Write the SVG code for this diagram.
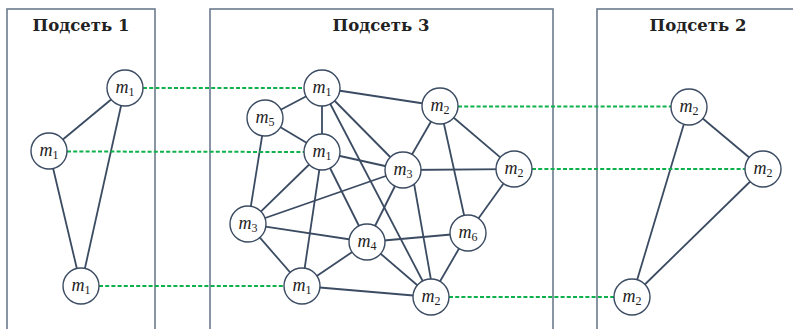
<svg xmlns="http://www.w3.org/2000/svg" width="793" height="329" viewBox="0 0 793 329">
  <style>
    .box { fill: none; stroke: #6c7b8d; stroke-width: 1.6; }
    .title { font-family: "DejaVu Serif", "Liberation Serif", serif; font-weight: bold; font-size: 16.5px; fill: #222; text-anchor: middle; }
    .edge { stroke: #3b4b62; stroke-width: 1.8; fill: none; }
    .link { stroke: #0db14b; stroke-width: 2; stroke-dasharray: 4 2.2; fill: none; }
    .node circle { fill: #fff; stroke: #3b4b62; stroke-width: 1.4; }
    .node text { font-family: "Liberation Serif", "DejaVu Serif", serif; font-size: 18px; fill: #222; text-anchor: middle; }
    .node .v { font-style: italic; }
    .node .s { font-size: 12px; }
  </style>

  <!-- subnet frames -->
  <g id="subnet1">
    <rect class="box" x="7" y="9" width="148" height="330"/>
    <text class="title" x="81" y="31">Подсеть 1</text>
  </g>
  <g id="subnet3">
    <rect class="box" x="210" y="9" width="343" height="330"/>
    <text class="title" x="381" y="31">Подсеть 3</text>
  </g>
  <g id="subnet2">
    <rect class="box" x="597" y="9" width="210" height="330"/>
    <text class="title" x="698" y="31">Подсеть 2</text>
  </g>

  <!-- connectors -->
  <g id="connectors">
    <!-- subnet 1 -->
    <line class="edge" x1="125" y1="88" x2="49" y2="151"/>
    <line class="edge" x1="125" y1="88" x2="81" y2="286"/>
    <line class="edge" x1="49" y1="151" x2="81" y2="286"/>
    <!-- subnet 2 -->
    <line class="edge" x1="689" y1="107" x2="632" y2="297"/>
    <line class="edge" x1="689" y1="107" x2="763" y2="169"/>
    <line class="edge" x1="763" y1="169" x2="632" y2="297"/>
    <!-- subnet 3 -->
    <line class="edge" x1="322" y1="88" x2="265" y2="118"/>
    <line class="edge" x1="322" y1="88" x2="322" y2="152"/>
    <line class="edge" x1="322" y1="88" x2="440" y2="106"/>
    <line class="edge" x1="322" y1="88" x2="403" y2="170"/>
    <line class="edge" x1="322" y1="88" x2="431" y2="297"/>
    <line class="edge" x1="265" y1="118" x2="322" y2="152"/>
    <line class="edge" x1="265" y1="118" x2="248" y2="224"/>
    <line class="edge" x1="322" y1="152" x2="403" y2="170"/>
    <line class="edge" x1="322" y1="152" x2="248" y2="224"/>
    <line class="edge" x1="322" y1="152" x2="302" y2="286"/>
    <line class="edge" x1="322" y1="152" x2="367" y2="242"/>
    <line class="edge" x1="440" y1="106" x2="403" y2="170"/>
    <line class="edge" x1="440" y1="106" x2="468" y2="233"/>
    <line class="edge" x1="440" y1="106" x2="514" y2="169"/>
    <line class="edge" x1="403" y1="170" x2="514" y2="169"/>
    <line class="edge" x1="403" y1="170" x2="248" y2="224"/>
    <line class="edge" x1="403" y1="170" x2="367" y2="242"/>
    <line class="edge" x1="412" y1="172" x2="434" y2="297"/>
    <line class="edge" x1="248" y1="224" x2="367" y2="242"/>
    <line class="edge" x1="248" y1="224" x2="302" y2="286"/>
    <line class="edge" x1="367" y1="242" x2="302" y2="286"/>
    <line class="edge" x1="367" y1="242" x2="468" y2="233"/>
    <line class="edge" x1="367" y1="242" x2="431" y2="297"/>
    <line class="edge" x1="468" y1="233" x2="514" y2="169"/>
    <line class="edge" x1="468" y1="233" x2="431" y2="297"/>
    <line class="edge" x1="302" y1="286" x2="431" y2="297"/>
    <!-- links between subnets -->
    <line class="link" x1="143" y1="88" x2="304" y2="88"/>
    <line class="link" x1="67" y1="151.5" x2="304" y2="152"/>
    <line class="link" x1="99" y1="286" x2="284" y2="286"/>
    <line class="link" x1="458" y1="106.5" x2="671" y2="106.5"/>
    <line class="link" x1="532" y1="169" x2="745" y2="169"/>
    <line class="link" x1="449" y1="297" x2="614" y2="297"/>
  </g>

  <!-- subnet 1 nodes -->
  <g id="s1-a" class="node"><circle cx="125" cy="88" r="18"/><text x="125" y="93"><tspan class="v">m</tspan><tspan class="s" dy="3">1</tspan></text></g>
  <g id="s1-b" class="node"><circle cx="49" cy="151" r="18"/><text x="49" y="156"><tspan class="v">m</tspan><tspan class="s" dy="3">1</tspan></text></g>
  <g id="s1-c" class="node"><circle cx="81" cy="286" r="18"/><text x="81" y="291"><tspan class="v">m</tspan><tspan class="s" dy="3">1</tspan></text></g>

  <!-- subnet 3 nodes -->
  <g id="s3-m1-top" class="node"><circle cx="322" cy="88" r="18"/><text x="322" y="93"><tspan class="v">m</tspan><tspan class="s" dy="3">1</tspan></text></g>
  <g id="s3-m5" class="node"><circle cx="265" cy="118" r="18"/><text x="265" y="123"><tspan class="v">m</tspan><tspan class="s" dy="3">5</tspan></text></g>
  <g id="s3-m1-mid" class="node"><circle cx="322" cy="152" r="18"/><text x="322" y="157"><tspan class="v">m</tspan><tspan class="s" dy="3">1</tspan></text></g>
  <g id="s3-m3-right" class="node"><circle cx="403" cy="170" r="18"/><text x="403" y="175"><tspan class="v">m</tspan><tspan class="s" dy="3">3</tspan></text></g>
  <g id="s3-m2-top" class="node"><circle cx="440" cy="106" r="18"/><text x="440" y="111"><tspan class="v">m</tspan><tspan class="s" dy="3">2</tspan></text></g>
  <g id="s3-m2-right" class="node"><circle cx="514" cy="169" r="18"/><text x="514" y="174"><tspan class="v">m</tspan><tspan class="s" dy="3">2</tspan></text></g>
  <g id="s3-m3-left" class="node"><circle cx="248" cy="224" r="18"/><text x="248" y="229"><tspan class="v">m</tspan><tspan class="s" dy="3">3</tspan></text></g>
  <g id="s3-m4" class="node"><circle cx="367" cy="242" r="18"/><text x="367" y="247"><tspan class="v">m</tspan><tspan class="s" dy="3">4</tspan></text></g>
  <g id="s3-m6" class="node"><circle cx="468" cy="233" r="18"/><text x="468" y="238"><tspan class="v">m</tspan><tspan class="s" dy="3">6</tspan></text></g>
  <g id="s3-m1-bottom" class="node"><circle cx="302" cy="286" r="18"/><text x="302" y="291"><tspan class="v">m</tspan><tspan class="s" dy="3">1</tspan></text></g>
  <g id="s3-m2-bottom" class="node"><circle cx="431" cy="297" r="18"/><text x="431" y="302"><tspan class="v">m</tspan><tspan class="s" dy="3">2</tspan></text></g>

  <!-- subnet 2 nodes -->
  <g id="s2-a" class="node"><circle cx="689" cy="107" r="18"/><text x="689" y="112"><tspan class="v">m</tspan><tspan class="s" dy="3">2</tspan></text></g>
  <g id="s2-b" class="node"><circle cx="763" cy="169" r="18"/><text x="763" y="174"><tspan class="v">m</tspan><tspan class="s" dy="3">2</tspan></text></g>
  <g id="s2-c" class="node"><circle cx="632" cy="297" r="18"/><text x="632" y="302"><tspan class="v">m</tspan><tspan class="s" dy="3">2</tspan></text></g>
</svg>
